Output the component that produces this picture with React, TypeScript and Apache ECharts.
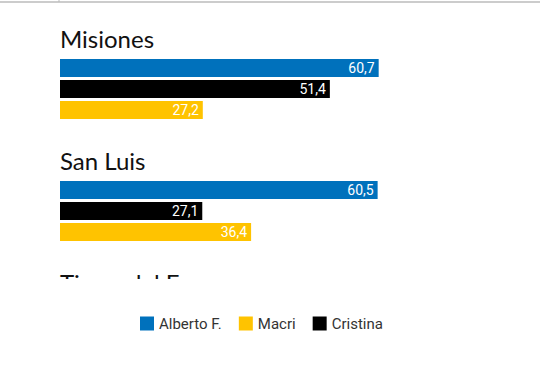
import React, { useEffect, useRef } from "react";
import * as echarts from "echarts";

const provinces = ["Misiones", "San Luis", "Tierra del Fuego"];
const seriesNames = ["Alberto F.", "Cristina", "Macri"];
const legendOrder = ["Alberto F.", "Macri", "Cristina"];
const albertoValues = [60.7, 60.5, null];
const cristinaValues = [51.4, 27.1, null];
const macriValues = [27.2, 36.4, null];
const colors = ["#0071bc", "#000000", "#ffc300"];

export default function App() {
  const ref = useRef<HTMLDivElement>(null);
  useEffect(() => {
    document.body.style.margin = "0";
    const chart = echarts.init(ref.current!, null, { renderer: "svg" });
    const values = [albertoValues, cristinaValues, macriValues];
    chart.setOption({
      animation: false,
      grid: { left: 60, top: 28, width: 420, height: 366, containLabel: false, outerBoundsMode: "none" },
      xAxis: { type: "value", min: 0, max: 80, show: false },
      yAxis: {
        type: "category",
        data: provinces,
        inverse: true,
        axisLine: { show: false },
        axisTick: { show: false },
        splitLine: { show: false },
        axisLabel: {
          inside: true,
          margin: 0,
          align: "left",
          verticalAlign: "bottom",
          padding: [0, 0, 39, 0],
          fontSize: 24,
          lineHeight: 24,
          fontFamily: "Lato",
          color: "#111",
        },
      },
      legend: {
        data: legendOrder,
        left: 135,
        top: 311,
        itemWidth: 14,
        itemHeight: 14,
        itemGap: 17,
        icon: "rect",
        z: 100,
        textStyle: { fontSize: 15, color: "#333", fontFamily: "Roboto" },
      },
      graphic: [
        { type: "rect", z: 50, shape: { x: 0, y: 279, width: 540, height: 105 }, style: { fill: "#fff" } },
        { type: "line", z: 50, shape: { x1: 0, y1: 2, x2: 540, y2: 2 }, style: { stroke: "#cccccc", lineWidth: 2 } },
        { type: "line", z: 50, shape: { x1: 59, y1: 0, x2: 59, y2: 2 }, style: { stroke: "#bbbbbb", lineWidth: 1 } },
      ],
      series: seriesNames.map((name, i) => ({
        name,
        type: "bar",
        data: values[i],
        barWidth: 18,
        barGap: "16.7%",
        itemStyle: { color: colors[i] },
        label: {
          show: true,
          position: "insideRight",
          distance: 4,
          color: "#fff",
          fontSize: 14,
          fontFamily: "Roboto",
          formatter: (p: any) => (p.value == null ? "" : Number(p.value).toFixed(1).replace(".", ",")),
        },
      })),
    });
    return () => chart.dispose();
  }, []);
  return <div ref={ref} style={{ width: 540, height: 384 }} />;
}
